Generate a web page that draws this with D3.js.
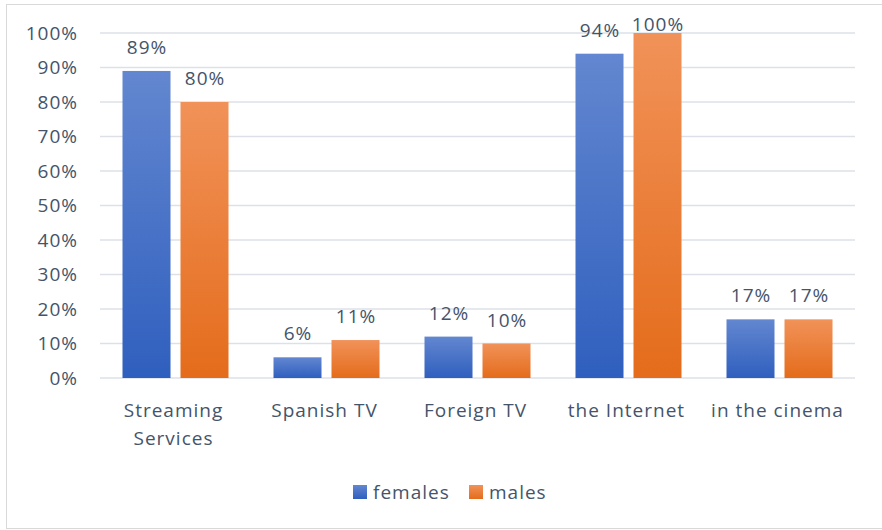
<!DOCTYPE html>
<html>
<head>
<meta charset="utf-8">
<script src="https://cdn.jsdelivr.net/npm/d3@7"></script>
<style>
  html, body { margin: 0; padding: 0; background: #fff; }
  svg { display: block; }
  text { font-family: "Open Sans", "Noto Sans", sans-serif; fill: #44546A; letter-spacing: 1px; }
</style>
</head>
<body>
<svg id="chart" width="882" height="530"></svg>
<script>
// Where people watch content, by gender (share of respondents)
const categories = [["Streaming", "Services"], ["Spanish TV"], ["Foreign TV"], ["the Internet"], ["in the cinema"]];
const seriesNames = ["females", "males"];
const females = [89, 6, 12, 94, 17];
const males = [80, 11, 10, 100, 17];
const yTicks = [0, 10, 20, 30, 40, 50, 60, 70, 80, 90, 100];

const seriesValues = [females, males];
const colors = {
  females: { top: "#6387d0", bottom: "#2f5fbe" },
  males: { top: "#f19259", bottom: "#e46c1b" }
};

const svg = d3.select("#chart");
const margin = { left: 100, right: 27, top: 33, bottom: 152 };
const W = 882, H = 530;

// Outer chart frame
svg.append("rect")
  .attr("x", 6.5).attr("y", 4.5)
  .attr("width", W + 10).attr("height", 524)
  .attr("fill", "#fff").attr("stroke", "#d9d9d9").attr("stroke-width", 1);

// Vertical gradients for each series
const defs = svg.append("defs");
seriesNames.forEach(name => {
  const g = defs.append("linearGradient")
    .attr("id", "grad-" + name)
    .attr("x1", 0).attr("y1", 0).attr("x2", 0).attr("y2", 1);
  g.append("stop").attr("offset", "0%").attr("stop-color", colors[name].top);
  g.append("stop").attr("offset", "100%").attr("stop-color", colors[name].bottom);
});

const x = d3.scaleBand()
  .domain(d3.range(categories.length))
  .range([margin.left, W - margin.right]);

const y = d3.scaleLinear()
  .domain([0, 100])
  .range([H - margin.bottom, margin.top]);

const barW = 48, barGap = 10;

// Gridlines and y tick labels
const grid = svg.append("g");
grid.selectAll("line")
  .data(yTicks)
  .join("line")
  .attr("x1", margin.left).attr("x2", W - margin.right)
  .attr("y1", d => y(d)).attr("y2", d => y(d))
  .attr("stroke", "#dde1e7").attr("stroke-width", 1.5);

grid.selectAll("text")
  .data(yTicks)
  .join("text")
  .attr("x", 78)
  .attr("y", d => y(d))
  .attr("dy", "0.36em")
  .attr("text-anchor", "end")
  .attr("font-size", 19)
  .text(d => d + "%");

// Bars with value labels (labels kept inside the chart area)
seriesNames.forEach((name, si) => {
  const vals = seriesValues[si];
  const g = svg.append("g");
  const groupW = barW * 2 + barGap;
  const xPos = i => x(i) + (x.bandwidth() - groupW) / 2 + si * (barW + barGap);

  g.selectAll("rect")
    .data(vals)
    .join("rect")
    .attr("x", (d, i) => xPos(i))
    .attr("y", d => y(d))
    .attr("width", barW)
    .attr("height", d => y(0) - y(d))
    .attr("fill", "url(#grad-" + name + ")");

  g.selectAll("text")
    .data(vals)
    .join("text")
    .attr("x", (d, i) => xPos(i) + barW / 2 + 0.5)
    .attr("y", d => Math.max(y(d) - 17, 31))
    .attr("text-anchor", "middle")
    .attr("font-size", 19)
    .text(d => d + "%");
});

// Category labels
const cat = svg.append("g");
categories.forEach((lines, i) => {
  const cx = x(i) + x.bandwidth() / 2 - 2;
  const t = cat.append("text")
    .attr("x", cx)
    .attr("y", 417)
    .attr("text-anchor", "middle")
    .attr("font-size", 19);
  lines.forEach((ln, j) => {
    t.append("tspan")
      .attr("x", cx)
      .attr("dy", j === 0 ? 0 : 28)
      .text(ln);
  });
});

// Legend
const legend = svg.append("g");
const legendItems = [
  { name: "females", x: 353 },
  { name: "males", x: 469 }
];
legendItems.forEach(item => {
  legend.append("rect")
    .attr("x", item.x).attr("y", 485)
    .attr("width", 14).attr("height", 14)
    .attr("fill", "url(#grad-" + item.name + ")");
  legend.append("text")
    .attr("x", item.x + 20).attr("y", 492)
    .attr("dy", "0.36em")
    .attr("font-size", 19)
    .text(item.name);
});
</script>
</body>
</html>
